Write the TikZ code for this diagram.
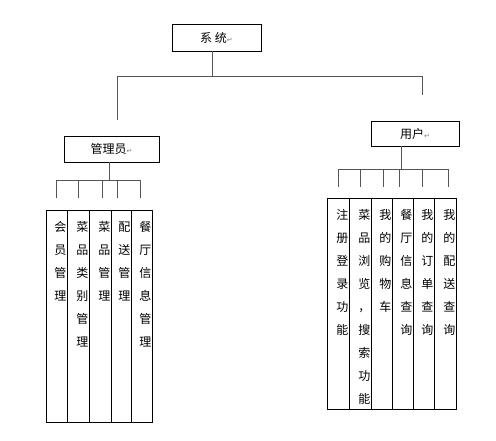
\documentclass[tikz,border=0pt]{standalone}
\usepackage{fontspec}
\setmainfont{Noto Sans CJK SC}
\newfontfamily\markfont{DejaVu Sans}
\usetikzlibrary{positioning}
\definecolor{linegray}{RGB}{85,85,85}
\newcommand{\retmark}{{\markfont\color{gray}\fontsize{7}{7}\selectfont ↵}}

\begin{document}
\begin{tikzpicture}[x=1pt, y=-1pt,
    head/.style={draw, line width=0.8pt, inner sep=0pt, font=\fontsize{12}{14}\selectfont},
    leaf/.style={draw, line width=0.8pt, anchor=north west, inner xsep=1pt, inner ysep=0pt,
                 align=right, text height=21pt, font=\fontsize{12}{23}\selectfont},
    adminleaf/.style={leaf, text depth=191pt},
    userleaf/.style={leaf, text depth=190pt},
    conn/.style={draw=linegray, line width=0.8pt}
]
  \useasboundingbox (0,0) rectangle (496,441);

  % Heads
  \node[head, minimum width=89pt, minimum height=27pt] (sys) at (216.5,37.5) {系\ 统\retmark};
  \node[head, minimum width=95pt, minimum height=26pt] (admin) at (111.5,149) {管理员\retmark};
  \node[head, minimum width=88pt, minimum height=25pt] (user) at (415,133.5) {用户\retmark};

  % Admin functions
  \node[adminleaf, text width=19pt] (a1) at (46,210) {会\\员\\管\\理};
  \node[adminleaf, text width=20pt] (a2) at (67,210) {菜\\品\\类\\别\\管\\理};
  \node[adminleaf, text width=20pt] (a3) at (89,210) {菜\\品\\管\\理};
  \node[adminleaf, text width=18pt] (a4) at (111,210) {配\\送\\管\\理};
  \node[adminleaf, text width=19pt] (a5) at (131,210) {餐\\厅\\信\\息\\管\\理};

  % User functions
  \node[userleaf, text width=20pt] (u1) at (327,198) {注\\册\\登\\录\\功\\能};
  \node[userleaf, text width=20pt] (u2) at (349,198) {菜\\品\\浏\\览\\，\\搜\\索\\功\\能};
  \node[userleaf, text width=19pt] (u3) at (371,198) {我\\的\\购\\物\\车};
  \node[userleaf, text width=19pt] (u4) at (392,198) {餐\\厅\\信\\息\\查\\询};
  \node[userleaf, text width=19pt] (u5) at (413,198) {我\\的\\订\\单\\查\\询};
  \node[userleaf, text width=20pt] (u6) at (434,198) {我\\的\\配\\送\\查\\询};

  % Top connectors
  \coordinate (top) at (212,76);
  \coordinate (busL) at (117,76);
  \coordinate (busR) at (422,76);
  \coordinate (dropL) at (117,120);
  \coordinate (dropR) at (422,95);
  \draw[conn] (sys.south -| top) -- (top);
  \draw[conn] (dropL) -- (busL) -- (busR) -- (dropR);

  % Admin connectors
  \coordinate (abus) at (109,180);
  \coordinate (abusL) at (56,180);
  \coordinate (abusR) at (140,180);
  \draw[conn] (admin.south -| abus) -- (abus);
  \draw[conn] (abusL) -- (abusR);
  \foreach \x in {56,78,102,117,140}
    \draw[conn] (\x,180) -- (\x,198);

  % User connectors
  \coordinate (ubus) at (401,169);
  \coordinate (ubusL) at (338,169);
  \coordinate (ubusR) at (448,169);
  \draw[conn] (user.south -| ubus) -- (ubus);
  \draw[conn] (ubusL) -- (ubusR);
  \foreach \x in {338,360,383,399,422,448}
    \draw[conn] (\x,169) -- (\x,187);
\end{tikzpicture}
\end{document}
